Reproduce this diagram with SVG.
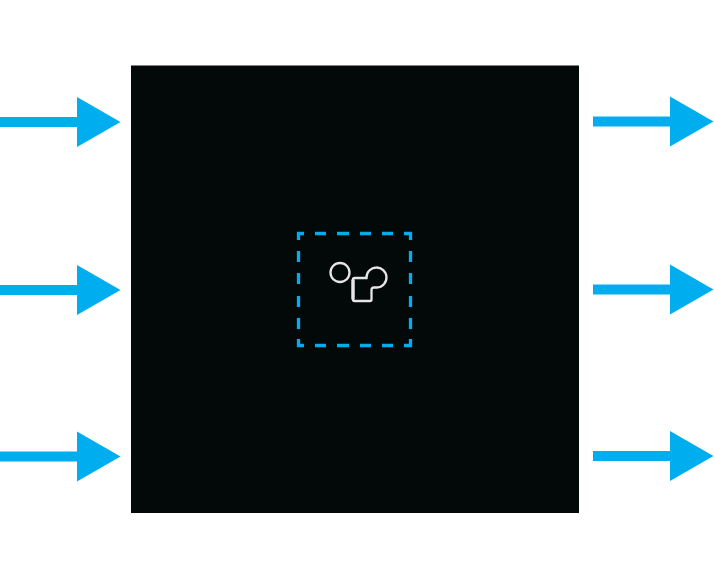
<svg xmlns="http://www.w3.org/2000/svg" width="714" height="577" viewBox="0 0 714 577">
<style>
.a{fill:#00aeef}
.s{fill:none;stroke:#00aeef;stroke-width:3.300}
.i{fill:none;stroke:#e6e6e6;stroke-width:2.300}
</style>
<defs>
<path id="ar" class="a" d="M0-5H77V-25L120.500 0L77 25V5H0Z"/>
</defs>
<rect width="714" height="577" fill="#fff"/>
<g id="block"><rect x="131" y="65.500" width="448" height="447.500" fill="#030808"/></g>
<g id="frame">
<path class="s" d="M298.500 240V233.500H304M315 233.500H326M337 233.500H349M360 233.500H371M382 233.500H393M404 233.500H410.500V240M410.500 251V262M410.500 273V284M410.500 296V307M410.500 318V329M410.500 339V345.500H404M393 345.500H382M371 345.500H360M349 345.500H337M326 345.500H315M304 345.500H298.500V339M298.500 329V318M298.500 307V296M298.500 284V273M298.500 262V251"/>
</g>
<g id="icon">
<circle class="i" cx="340" cy="272.500" r="9.500"/>
<path class="i" d="M366.500 278H354.500Q353 278 353 279.500V299.500Q353 301 354.500 301H370Q371.500 301 371.500 299.500V290Q371.500 287.500 374 287.500H377A10 10 0 1 0 366.500 278Z"/>
<path d="M353 279.500V299.500" fill="none" stroke="#e6e6e6" stroke-width="3.400"/>
</g>
<g id="connectors">
<use href="#ar" x="0" y="122"/>
<use href="#ar" x="0" y="290"/>
<use href="#ar" x="0" y="456.500"/>
<use href="#ar" x="593" y="121.500"/>
<use href="#ar" x="593" y="289.500"/>
<use href="#ar" x="593" y="456"/>
</g>
</svg>
